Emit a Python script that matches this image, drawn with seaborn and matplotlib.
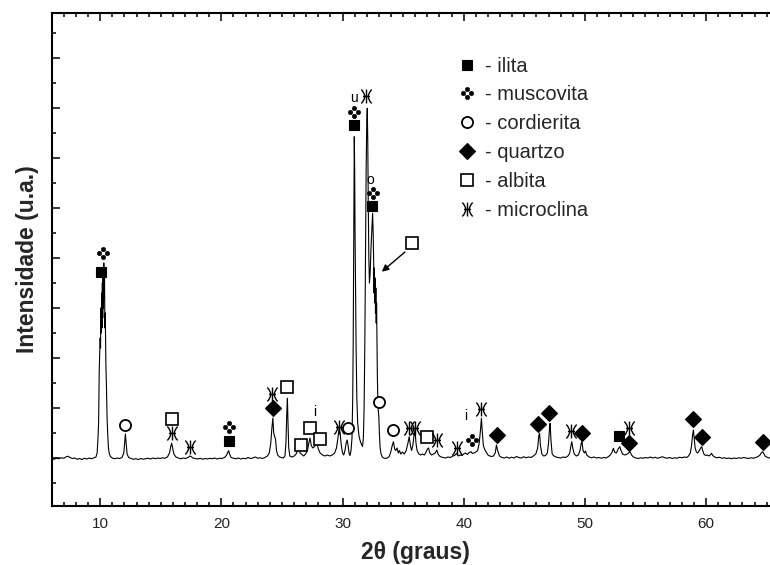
import matplotlib
matplotlib.use("Agg")
import numpy as np
import pandas as pd
import matplotlib.pyplot as plt
from matplotlib.path import Path
from matplotlib.lines import Line2D
from matplotlib.ticker import MultipleLocator
import seaborn as sns

sns.set_theme(style="ticks")
plt.rcParams["font.family"] = ["Liberation Sans", "DejaVu Sans"]

# ---- diffractogram (2theta in degrees, intensity in arbitrary units) ----
scan_low = [
    (6.0, 990), (6.2, 975), (6.4, 1000), (6.6, 985), (6.8, 1005), (7.0, 995),
    (7.2, 1025), (7.35, 1035), (7.5, 1010), (7.7, 990), (7.9, 1000), (8.1, 975),
    (8.3, 990), (8.5, 970), (8.7, 995), (8.9, 980), (9.1, 1000), (9.3, 985),
    (9.5, 1005), (9.65, 1020),
    (9.75, 1100), (9.82, 1400), (9.87, 1700), (9.92, 2700), (9.96, 3100),
    (10.0, 3400), (10.03, 3200), (10.06, 4000), (10.09, 3500), (10.12, 4300),
    (10.15, 3600), (10.18, 4500), (10.21, 3800), (10.24, 4700), (10.27, 4000),
    (10.3, 4900), (10.33, 4200), (10.36, 4600), (10.39, 3600), (10.42, 3900),
    (10.47, 2900), (10.52, 2400), (10.57, 1800), (10.62, 1500), (10.68, 1200),
    (10.76, 1080), (10.85, 1030),
    (11.0, 1000), (11.2, 985), (11.4, 1000), (11.6, 990), (11.8, 1010),
    (11.95, 1100), (12.02, 1300), (12.08, 1480), (12.14, 1300), (12.22, 1080),
    (12.35, 1010), (12.55, 990), (12.75, 975), (12.95, 985), (13.15, 970),
    (13.35, 990), (13.55, 975), (13.75, 985), (13.95, 995), (14.15, 980),
    (14.35, 1000), (14.55, 985), (14.75, 1000), (14.95, 990), (15.15, 1005),
    (15.35, 995), (15.55, 1020), (15.72, 1100), (15.82, 1230), (15.9, 1294),
    (15.98, 1200), (16.08, 1080), (16.25, 1020), (16.45, 1000), (16.65, 985),
    (16.85, 1000), (17.05, 990), (17.25, 1010), (17.4, 1040), (17.5, 1030),
    (17.65, 1000), (17.85, 990), (18.05, 980), (18.25, 995), (18.45, 975),
    (18.65, 990), (18.85, 980), (19.05, 995), (19.25, 985), (19.45, 1000),
    (19.65, 980), (19.85, 995), (20.05, 990), (20.25, 1010), (20.42, 1050),
    (20.52, 1110), (20.6, 1146), (20.68, 1080), (20.8, 1010), (21.0, 995),
    (21.2, 985), (21.4, 1000), (21.6, 980), (21.8, 995), (22.0, 985),
    (22.2, 1010), (22.4, 990), (22.6, 1000), (22.8, 1020), (23.0, 995),
    (23.2, 1005), (23.4, 990), (23.6, 1010), (23.8, 1040), (23.95, 1100),
]

scan_mid = [
    (24.08, 1300), (24.17, 1600), (24.25, 1800), (24.32, 1500), (24.4, 1426),
    (24.47, 1380), (24.55, 1150), (24.65, 1060), (24.8, 1020), (24.95, 1010),
    (25.1, 1000), (25.25, 1040), (25.33, 1300), (25.4, 1900), (25.45, 2194),
    (25.5, 1700), (25.56, 1200), (25.65, 1040), (25.8, 1020), (25.95, 1030),
    (26.1, 1060), (26.22, 1100), (26.32, 1190), (26.4, 1200), (26.5, 1100),
    (26.65, 1070), (26.8, 1040), (26.95, 1080), (27.1, 1150), (27.22, 1300),
    (27.32, 1400), (27.42, 1250), (27.55, 1200), (27.7, 1230), (27.82, 1300),
    (27.9, 1290), (28.0, 1180), (28.15, 1100), (28.35, 1060), (28.55, 1040),
    (28.75, 1060), (28.95, 1040), (29.15, 1060), (29.35, 1100), (29.5, 1200),
    (29.62, 1400), (29.72, 1594), (29.8, 1500), (29.9, 1250), (30.0, 1100),
    (30.1, 1060), (30.2, 1150), (30.3, 1300), (30.38, 1360), (30.46, 1250),
    (30.55, 1080), (30.62, 1050), (30.7, 1150),
    (30.78, 1400), (30.84, 2200), (30.88, 3300), (30.91, 4800), (30.94, 6300),
    (30.97, 7426), (31.0, 6800), (31.03, 5600), (31.07, 4600), (31.12, 3200),
    (31.18, 2200), (31.25, 1700), (31.35, 1450), (31.45, 1350), (31.55, 1280),
    (31.65, 1230), (31.72, 1400), (31.78, 2000), (31.84, 3300), (31.9, 5200),
    (31.95, 6800), (32.0, 7700), (32.04, 7994), (32.08, 7400), (32.12, 6200),
    (32.17, 5000), (32.22, 4500), (32.28, 4700), (32.35, 5200), (32.42, 5600),
    (32.48, 5894), (32.53, 5500), (32.57, 4900), (32.6, 4300), (32.63, 4800),
    (32.66, 4100), (32.69, 4600), (32.72, 3900), (32.75, 4400), (32.78, 3700),
    (32.81, 4100), (32.84, 3300), (32.87, 2700), (32.9, 2300), (32.95, 1960),
    (33.0, 1800), (33.04, 1500), (33.1, 1200), (33.18, 1080), (33.28, 1020),
    (33.4, 1000),
]

scan_high = [
    (33.55, 990), (33.7, 1000), (33.85, 1030), (33.98, 1120), (34.1, 1250),
    (34.2, 1326), (34.3, 1180), (34.4, 1150), (34.5, 1200), (34.6, 1100),
    (34.7, 1150), (34.8, 1080), (34.95, 1120), (35.1, 1080), (35.25, 1150),
    (35.4, 1300), (35.5, 1426), (35.6, 1250), (35.7, 1150), (35.8, 1250),
    (35.9, 1450), (35.98, 1560), (36.06, 1300), (36.15, 1150), (36.3, 1080),
    (36.45, 1060), (36.6, 1080), (36.75, 1060), (36.9, 1120), (37.0, 1180),
    (37.1, 1200), (37.2, 1100), (37.35, 1060), (37.5, 1080), (37.65, 1100),
    (37.78, 1160), (37.88, 1080), (38.0, 1040), (38.15, 1020), (38.3, 1010),
    (38.5, 1000), (38.7, 1020), (38.9, 1010), (39.1, 1040), (39.25, 1050),
    (39.42, 1094), (39.55, 1040), (39.7, 1060), (39.85, 1050), (40.0, 1080),
    (40.15, 1100), (40.3, 1070), (40.45, 1110), (40.6, 1126), (40.72, 1090),
    (40.85, 1100), (41.0, 1120), (41.15, 1150), (41.28, 1300), (41.38, 1550),
    (41.46, 1794), (41.54, 1500), (41.62, 1250), (41.72, 1180), (41.85, 1120),
    (42.0, 1060), (42.15, 1040), (42.3, 1030), (42.45, 1040), (42.6, 1100),
    (42.7, 1260), (42.8, 1150), (42.95, 1040), (43.15, 1010), (43.35, 1000),
    (43.55, 1020), (43.75, 995), (43.95, 1015), (44.15, 1000), (44.35, 1030),
    (44.55, 1010), (44.75, 1000), (44.95, 1025), (45.15, 1005), (45.35, 1020),
    (45.55, 1010), (45.75, 1040), (45.95, 1080), (46.1, 1200), (46.2, 1450),
    (46.26, 1494), (46.33, 1250), (46.45, 1080), (46.6, 1040), (46.75, 1050),
    (46.9, 1100), (47.0, 1300), (47.08, 1600), (47.13, 1694), (47.2, 1350),
    (47.3, 1080), (47.45, 1040), (47.6, 1020), (47.8, 1010), (48.0, 1000),
    (48.2, 1020), (48.4, 1010), (48.6, 1040), (48.75, 1100), (48.85, 1250),
    (48.92, 1326), (49.0, 1200), (49.12, 1080), (49.3, 1040), (49.45, 1060),
    (49.6, 1150), (49.7, 1300), (49.76, 1326), (49.85, 1150), (49.95, 1100),
    (50.05, 1140), (50.15, 1060), (50.35, 1020), (50.55, 1005), (50.75, 1020),
    (50.95, 1000), (51.15, 1010), (51.35, 995), (51.55, 1010), (51.75, 1000),
    (51.95, 1030), (52.1, 1060), (52.25, 1120), (52.35, 1194), (52.45, 1120),
    (52.6, 1100), (52.75, 1180), (52.88, 1226), (52.98, 1150), (53.1, 1080),
    (53.3, 1060), (53.5, 1080), (53.65, 1110), (53.73, 1126), (53.85, 1060),
    (54.0, 1020), (54.2, 1000), (54.4, 990), (54.6, 1005), (54.8, 995),
    (55.0, 1010), (55.2, 1000), (55.4, 1020), (55.6, 1000), (55.8, 1015),
    (56.0, 995), (56.2, 1010), (56.4, 1025), (56.6, 1005), (56.8, 995),
    (57.0, 1010), (57.2, 990), (57.4, 1005), (57.6, 995), (57.8, 1015),
    (58.0, 1005), (58.2, 1020), (58.4, 1010), (58.55, 1040), (58.7, 1100),
    (58.8, 1250), (58.88, 1450), (58.95, 1560), (59.02, 1400), (59.1, 1200),
    (59.2, 1120), (59.3, 1100), (59.45, 1150), (59.55, 1200), (59.64, 1226),
    (59.72, 1150), (59.82, 1080), (59.95, 1050), (60.1, 1060), (60.25, 1040),
    (60.38, 1070), (60.45, 1094), (60.55, 1050), (60.7, 1020), (60.9, 1005),
    (61.1, 1015), (61.3, 995), (61.5, 1005), (61.7, 990), (61.9, 1000),
    (62.1, 985), (62.3, 1000), (62.5, 990), (62.7, 1005), (62.9, 995),
    (63.1, 1010), (63.3, 1000), (63.5, 990), (63.7, 1005), (63.9, 995),
    (64.1, 1010), (64.3, 1030), (64.45, 1060), (64.58, 1110), (64.68, 1126),
    (64.78, 1080), (64.9, 1030), (65.1, 1010), (65.3, 995), (65.5, 1005),
    (65.7, 990), (65.9, 1000), (66.1, 995),
]

# ---- phase identification: 2theta of the peak and height of its symbol ----
ilita_2theta = [10.06, 20.59, 30.96, 32.45, 52.82]
ilita_level = [4726, 1346, 7660, 6040, 1440]

muscovita_2theta = [10.27, 20.59, 30.96, 32.50, 40.66]
muscovita_level = [5094, 1614, 7926, 6306, 1360]

cordierita_2theta = [12.06, 30.49, 33.00, 34.20]
cordierita_level = [1660, 1606, 2114, 1560]

quartzo_2theta = [24.25, 42.73, 46.16, 47.07, 49.74, 53.67, 58.95, 59.64, 64.68]
quartzo_level = [1994, 1460, 1680, 1894, 1506, 1306, 1774, 1426, 1326]

albita_2theta = [15.90, 25.45, 26.56, 27.33, 28.15, 36.94, 35.70]
albita_level = [1774, 2414, 1260, 1594, 1374, 1414, 5306]

microclina_2theta = [15.90, 17.43, 24.22, 29.72, 31.95, 35.50, 36.00, 37.78,
                     39.45, 41.40, 48.86, 53.60]
microclina_level = [1506, 1226, 2280, 1626, 8240, 1594, 1594, 1360,
                    1210, 1974, 1546, 1594]

# small letter tags next to some peaks
tag_text = ["u", "o", "i", "i"]
tag_2theta = [30.96, 32.28, 27.74, 40.18]
tag_level = [8194, 6560, 1926, 1840]

# arrow from the albita symbol to the shoulder of the 32.5 deg peak
arrow_tail = (35.15, 5120)
arrow_head = (33.24, 4726)

phase_names = ["ilita", "muscovita", "cordierita", "quartzo", "albita", "microclina"]

# ---- custom glyphs ----
def clover_path():
    r = 0.36
    d = 0.62
    circles = [Path.circle((0, d), r), Path.circle((0, -d), r),
               Path.circle((d, 0), r), Path.circle((-d, 0), r)]
    return Path.make_compound_path(*circles)


def microclina_path():
    verts = [(0, -1), (0, 1),
             (-0.75, 1), (0.25, 0), (-0.75, -1),
             (0.75, 1), (-0.25, 0), (0.75, -1),
             (-0.5, 0), (0.5, 0)]
    codes = [Path.MOVETO, Path.LINETO,
             Path.MOVETO, Path.CURVE3, Path.CURVE3,
             Path.MOVETO, Path.CURVE3, Path.CURVE3,
             Path.MOVETO, Path.LINETO]
    return Path(verts, codes)


styles = {
    "ilita": dict(marker="s", ms=7, mfc="black", mec="black", mew=0.8),
    "muscovita": dict(marker=clover_path(), ms=9, mfc="black", mec="black", mew=0.3),
    "cordierita": dict(marker="o", ms=8, mfc="white", mec="black", mew=1.3),
    "quartzo": dict(marker="D", ms=8, mfc="black", mec="black", mew=0.8),
    "albita": dict(marker="s", ms=8, mfc="white", mec="black", mew=1.2),
    "microclina": dict(marker=microclina_path(), ms=10, mfc="none", mec="black", mew=1.0),
}

positions = {
    "ilita": (ilita_2theta, ilita_level),
    "muscovita": (muscovita_2theta, muscovita_level),
    "cordierita": (cordierita_2theta, cordierita_level),
    "quartzo": (quartzo_2theta, quartzo_level),
    "albita": (albita_2theta, albita_level),
    "microclina": (microclina_2theta, microclina_level),
}

# ---- figure ----
scan = pd.DataFrame(scan_low + scan_mid + scan_high, columns=["two_theta", "intensity"])

fig = plt.figure(figsize=(7.7, 5.65), dpi=100)
ax = fig.add_axes([51.7 / 770, (565 - 506) / 565, (780 - 51.7) / 770, (506 - 12.7) / 565])
ax.set_facecolor("white")

sns.lineplot(data=scan, x="two_theta", y="intensity", color="black", lw=0.8,
             sort=False, estimator=None, ax=ax)

for name in phase_names:
    xs, ys = positions[name]
    ax.plot(xs, ys, ls="none", clip_on=False, **styles[name])

for t, x, y in zip(tag_text, tag_2theta, tag_level):
    ax.text(x, y, t, ha="center", va="center", fontsize=10, color="black")

ax.annotate("", xy=arrow_head, xytext=arrow_tail,
            arrowprops=dict(arrowstyle="-|>", color="black", lw=1.0,
                            mutation_scale=10, shrinkA=0, shrinkB=0))

ax.set_xlim(6.0, 66.1)
ax.set_ylim(40, 9906)

ax.xaxis.set_major_locator(MultipleLocator(10))
ax.xaxis.set_minor_locator(MultipleLocator(1))
ax.yaxis.set_major_locator(MultipleLocator(1000))
ax.yaxis.set_minor_locator(MultipleLocator(500))

ax.tick_params(which="both", direction="in", top=True, right=False,
               bottom=True, left=True, width=1.1, color="black")
ax.tick_params(which="major", length=6)
ax.tick_params(which="minor", length=3)
ax.tick_params(axis="x", labelsize=11, pad=8, labelcolor="#222222")
ax.tick_params(axis="y", labelleft=False)

for side in ["left", "bottom", "top", "right"]:
    ax.spines[side].set_visible(True)
    ax.spines[side].set_linewidth(1.5)
    ax.spines[side].set_color("black")

ax.set_xlabel("2θ (graus)", fontsize=16.5, fontweight="bold", labelpad=7)
ax.set_ylabel("Intensidade (u.a.)", fontsize=16.5, fontweight="bold", labelpad=6)

handles = [Line2D([], [], ls="none", **styles[n]) for n in phase_names]
labels = ["- " + n for n in phase_names]
ax.legend(handles, labels, loc="upper left", bbox_to_anchor=(0.556, 0.911),
          frameon=False, fontsize=14.5, handlelength=1.0, handletextpad=0.41,
          labelspacing=0.49, borderpad=0, borderaxespad=0)

fig.savefig("out.png", dpi=100, facecolor="white")
